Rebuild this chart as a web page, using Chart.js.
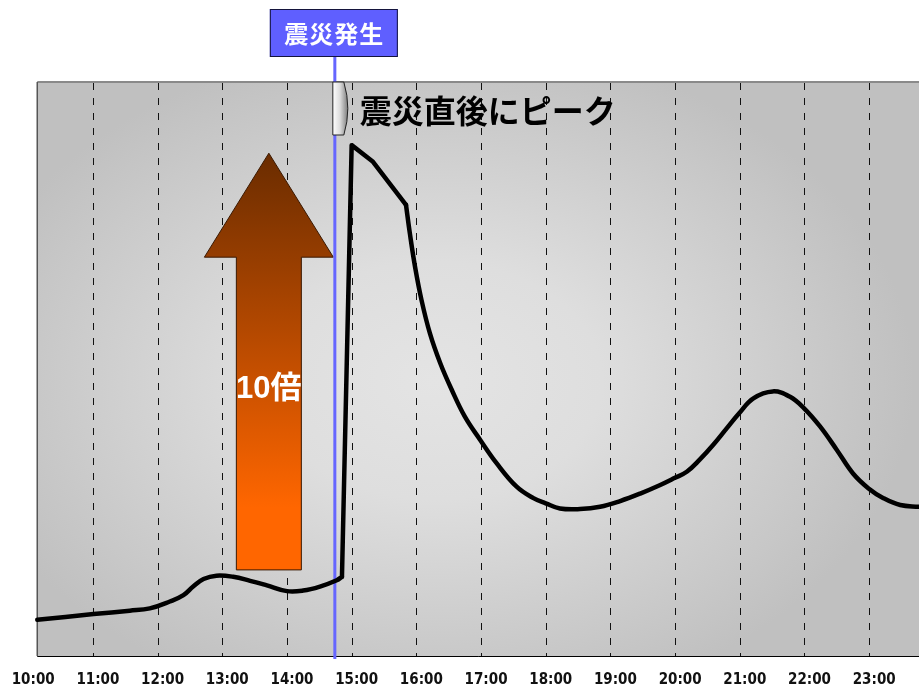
<!DOCTYPE html>
<html lang="ja">
<head>
<meta charset="utf-8">
<title>震災発生前後の推移</title>
<script src="https://cdn.jsdelivr.net/npm/chart.js@4.4.1/dist/chart.umd.min.js"></script>
<style>
  html, body { margin: 0; padding: 0; background: #fff; }
  #wrap { width: 919px; height: 687px; }
</style>
</head>
<body>
<div id="wrap"><canvas id="chart" width="919" height="687"></canvas></div>
<script>
// time of day in hours (14.5 = 14:30)
const times = [10.14, 11.01, 11.57, 11.88, 12.19, 12.4, 12.55, 12.71, 12.91, 13.17, 13.43, 13.69,
  14.0, 14.25, 14.51, 14.77, 14.85,
  15.0, 15.33, 15.84,
  15.9, 15.98, 16.08, 16.21, 16.37, 16.55, 16.75, 16.99, 17.24, 17.55, 17.81, 18.0, 18.22,
  18.53, 18.84, 19.15, 19.46, 19.77, 19.99, 20.18, 20.38, 20.59, 20.8, 20.99, 21.21, 21.51,
  21.77, 21.99, 22.24, 22.5, 22.75, 22.99, 23.22, 23.48, 23.77];
// relative volume (arbitrary units, 0-100)
const volume = [6.3, 7.3, 7.9, 8.3, 9.5, 10.6, 12.1, 13.4, 14.0, 13.8, 13.1, 12.3,
  11.3, 11.4, 12.1, 13.2, 13.8,
  89.0, 86.1, 78.6,
  73.6, 67.8, 62.0, 56.2, 51.0, 46.3, 41.7, 37.6, 33.6, 29.5, 27.5, 26.6, 25.7,
  25.6, 26.0, 27.0, 28.3, 29.8, 31.0, 32.1, 34.2, 36.8, 39.7, 42.3, 44.9, 46.1,
  45.2, 43.2, 40.0, 35.9, 31.8, 29.2, 27.5, 26.3, 26.0];

// the jump right after the quake is drawn with straight segments,
// everything before and after it as a smooth curve
const jumpStart = 16;  // 14:51
const jumpEnd = 19;    // 15:50

const hourTicks = [10, 11, 12, 13, 14, 15, 16, 17, 18, 19, 20, 21, 22, 23];
const tickLabels = ['10:00', '11:00', '12:00', '13:00', '14:00', '15:00', '16:00',
  '17:00', '18:00', '19:00', '20:00', '21:00', '22:00', '23:00'];

const quakeTime = 14.74;
const quakeLabel = '震災発生';
const peakLabel = '震災直後にピーク';
// big arrow: from the pre-quake level up to the peak
const arrowTime = 13.72;
const arrowFrom = 15.0;
const arrowTo = 87.6;
const arrowLabel = '10倍';

const JP = '"Noto Sans CJK JP", sans-serif';

const points = (from, to) => times.slice(from, to).map((t, i) => ({ x: t, y: volume[from + i] }));

const lineStyle = {
  borderColor: '#000',
  borderWidth: 4.5,
  pointRadius: 0,
  borderJoinStyle: 'round',
  borderCapStyle: 'round'
};

const decor = {
  id: 'decor',
  beforeDatasetsDraw(chart) {
    const { ctx, chartArea: a, scales: { x, y } } = chart;
    const left = x.getPixelForValue(times[0]);
    const top = a.top, bottom = a.bottom, right = a.right;

    // shaded plot background, lighter toward the middle
    ctx.save();
    ctx.beginPath();
    ctx.rect(left, top, right - left, bottom - top);
    ctx.clip();
    const cx = left + (right - left) * 0.45;
    const cy = top + (bottom - top) * 0.52;
    const rx = 480, ry = 340;
    ctx.translate(cx, cy);
    ctx.scale(rx / ry, 1);
    const g = ctx.createRadialGradient(0, 0, 0, 0, 0, ry);
    g.addColorStop(0, '#e4e4e4');
    g.addColorStop(0.35, '#dedede');
    g.addColorStop(1, '#c0c0c0');
    ctx.fillStyle = g;
    ctx.fillRect(-ry * 3, -ry * 3, ry * 6, ry * 6);
    ctx.restore();

    // dashed hour lines
    ctx.save();
    ctx.strokeStyle = '#111';
    ctx.lineWidth = 1;
    ctx.setLineDash([7, 8]);
    hourTicks.slice(1).forEach(h => {
      const px = Math.round(x.getPixelForValue(h)) + 0.5;
      ctx.beginPath();
      ctx.moveTo(px, top + 1);
      ctx.lineTo(px, bottom);
      ctx.stroke();
    });
    ctx.restore();

    // frame
    ctx.save();
    ctx.strokeStyle = '#8a8a8a';
    ctx.lineWidth = 2;
    ctx.beginPath();
    ctx.moveTo(left, top);
    ctx.lineTo(right, top);
    ctx.stroke();
    ctx.strokeStyle = '#555';
    ctx.lineWidth = 1.5;
    ctx.beginPath();
    ctx.moveTo(left, top);
    ctx.lineTo(left, bottom);
    ctx.stroke();
    ctx.strokeStyle = '#000';
    ctx.lineWidth = 1;
    ctx.beginPath();
    ctx.moveTo(left, bottom + 0.5);
    ctx.lineTo(right, bottom + 0.5);
    ctx.stroke();
    ctx.restore();

    // big arrow
    const ax = x.getPixelForValue(arrowTime);
    const yTip = y.getPixelForValue(arrowTo);
    const yBase = y.getPixelForValue(arrowFrom);
    const yHead = yTip + 104;
    ctx.save();
    const ag = ctx.createLinearGradient(0, yTip, 0, yBase);
    ag.addColorStop(0, '#6a2c00');
    ag.addColorStop(0.45, '#b84a00');
    ag.addColorStop(0.85, '#ff6600');
    ag.addColorStop(1, '#ff6600');
    ctx.fillStyle = ag;
    ctx.strokeStyle = '#3a1800';
    ctx.lineWidth = 1;
    ctx.beginPath();
    ctx.moveTo(ax, yTip);
    ctx.lineTo(ax + 64.5, yHead);
    ctx.lineTo(ax + 32.5, yHead);
    ctx.lineTo(ax + 32.5, yBase);
    ctx.lineTo(ax - 32.5, yBase);
    ctx.lineTo(ax - 32.5, yHead);
    ctx.lineTo(ax - 64.5, yHead);
    ctx.closePath();
    ctx.fill();
    ctx.stroke();
    ctx.fillStyle = '#fff';
    ctx.font = 'bold 31px "Liberation Sans", ' + JP;
    ctx.textAlign = 'center';
    ctx.textBaseline = 'middle';
    ctx.fillText(arrowLabel, ax, y.getPixelForValue(46.5));
    ctx.restore();

    // quake marker line with its label box
    const qx = x.getPixelForValue(quakeTime);
    ctx.save();
    ctx.fillStyle = '#6666ff';
    ctx.fillRect(qx - 1.5, 57, 3, bottom + 3 - 57);
    ctx.fillStyle = '#5f5fff';
    ctx.strokeStyle = '#14143c';
    ctx.lineWidth = 1;
    ctx.fillRect(qx - 65, 9, 128, 48);
    ctx.strokeRect(qx - 64.5, 9.5, 127, 47);
    ctx.fillStyle = '#fff';
    ctx.font = 'bold 24px ' + JP;
    ctx.letterSpacing = '1px';
    ctx.textAlign = 'center';
    ctx.textBaseline = 'middle';
    ctx.fillText(quakeLabel, qx - 0.5, 34);
    ctx.restore();
  },
  afterDatasetsDraw(chart) {
    const { ctx, chartArea: a, scales: { x } } = chart;
    const qx = x.getPixelForValue(quakeTime);
    const top = a.top;
    // small tab under the peak caption
    ctx.save();
    const l = qx - 2, r = qx + 9, t = top, b = top + 53;
    const cg = ctx.createLinearGradient(l, 0, r + 5, 0);
    cg.addColorStop(0, '#ffffff');
    cg.addColorStop(0.45, '#dcdcdc');
    cg.addColorStop(1, '#707070');
    ctx.fillStyle = cg;
    ctx.strokeStyle = '#222';
    ctx.lineWidth = 1;
    ctx.beginPath();
    ctx.moveTo(l, t);
    ctx.lineTo(r, t);
    ctx.quadraticCurveTo(r + 8, (t + b) / 2, r, b);
    ctx.lineTo(l, b);
    ctx.closePath();
    ctx.fill();
    ctx.stroke();
    ctx.fillStyle = '#000';
    ctx.font = 'bold 32px ' + JP;
    ctx.textAlign = 'left';
    ctx.textBaseline = 'middle';
    ctx.fillText(peakLabel, qx + 25, top + 29);
    ctx.restore();
  }
};

new Chart(document.getElementById('chart'), {
  type: 'line',
  data: {
    datasets: [
      { ...lineStyle, data: points(0, jumpStart + 1), tension: 0.4 },
      { ...lineStyle, data: points(jumpStart, jumpEnd + 1), tension: 0 },
      { ...lineStyle, data: points(jumpEnd, times.length), tension: 0.4 }
    ]
  },
  options: {
    responsive: false,
    animation: false,
    events: [],
    layout: { padding: { left: 28.2, top: 82, right: 0, bottom: 0 } },
    plugins: { legend: { display: false }, tooltip: { enabled: false } },
    scales: {
      x: {
        type: 'linear',
        min: 10,
        max: 23.77,
        grid: { display: false, drawTicks: false },
        border: { display: false },
        afterBuildTicks: scale => { scale.ticks = hourTicks.map(v => ({ value: v })); },
        afterFit: scale => {
          scale.height = 31;
          scale.paddingLeft = 0;
          scale.paddingRight = 0;
        },
        ticks: {
          autoSkip: false,
          maxRotation: 0,
          labelOffset: 5,
          padding: 15,
          color: '#111',
          font: { family: '"DejaVu Sans Condensed", "DejaVu Sans", sans-serif', weight: 'bold', size: 15 },
          callback: (v, i) => tickLabels[i]
        }
      },
      y: { display: false, min: 0, max: 100 }
    }
  },
  plugins: [decor]
});
</script>
</body>
</html>
